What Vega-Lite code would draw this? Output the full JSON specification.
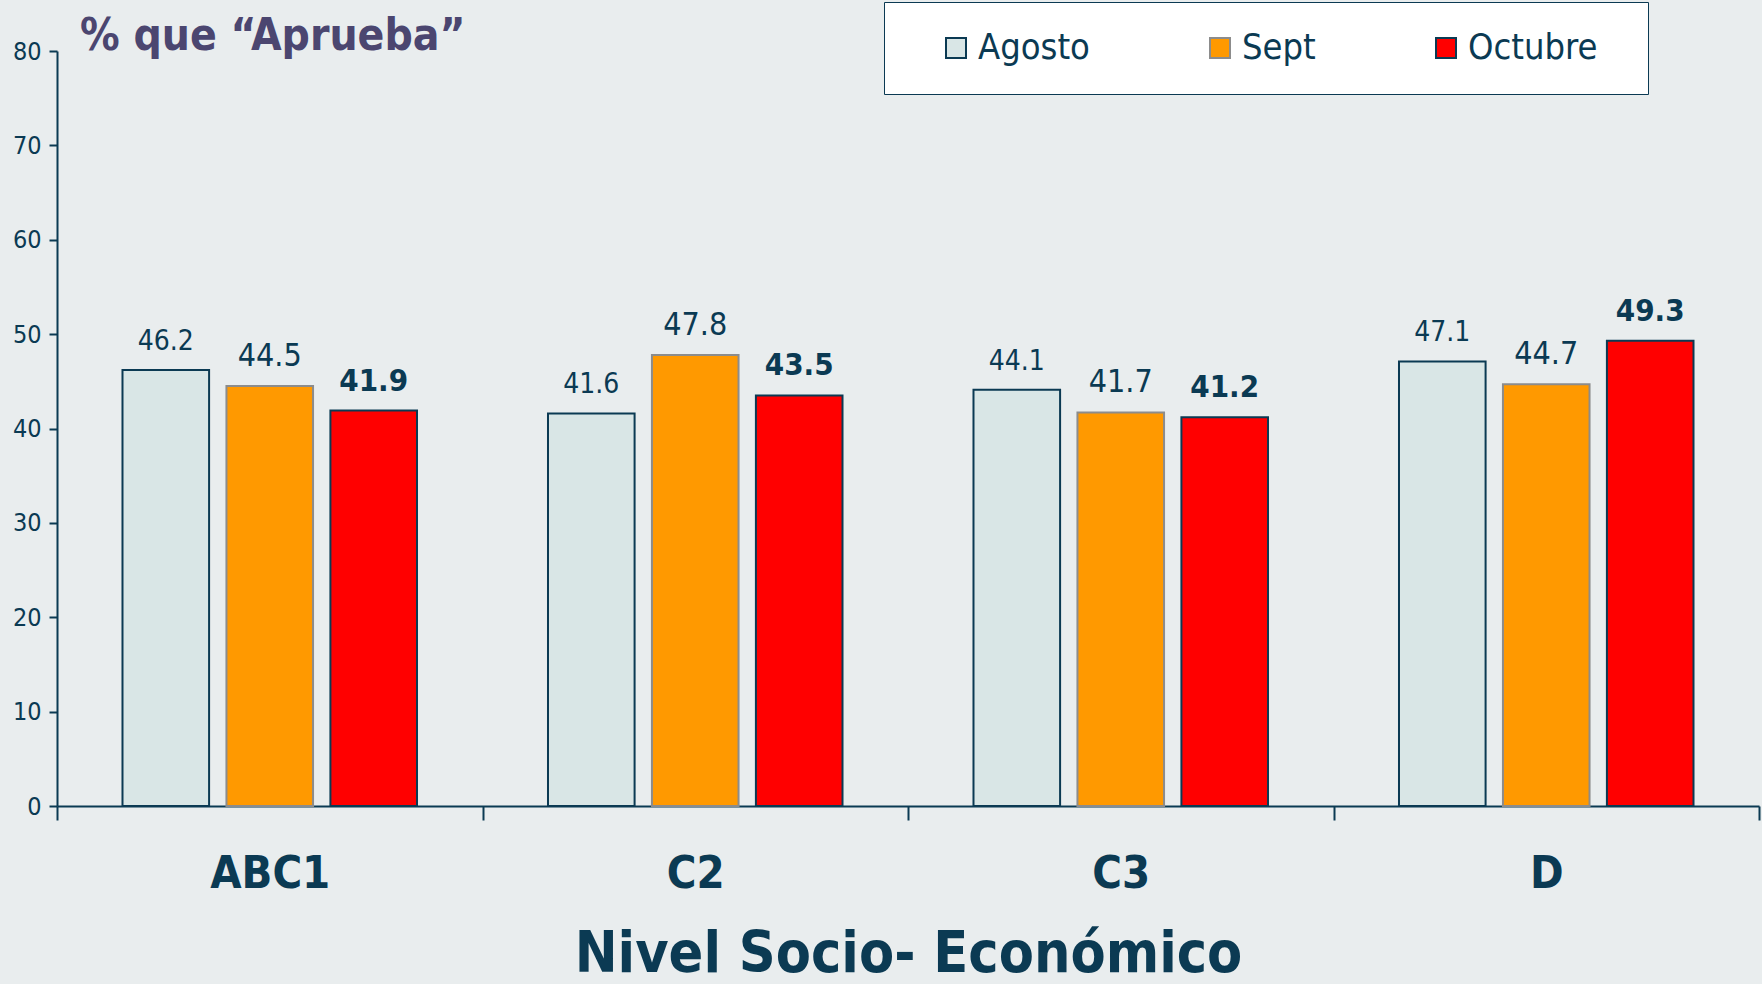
{
  "$schema": "https://vega.github.io/schema/vega-lite/v6.json",
  "width": 1702,
  "height": 755,
  "autosize": {"type": "none"},
  "padding": {"left": 57, "top": 51, "right": 3, "bottom": 178},
  "background": "#E9EDEE",
  "config": {"view": {"stroke": null}, "font": "DejaVu Sans Condensed"},
  "title": {"text": "% que “Aprueba”", "anchor": "start", "frame": "group", "dx": 23, "dy": 95, "fontSize": 44, "font": "DejaVu Sans Condensed", "fontWeight": "bold", "color": "#4B4670", "baseline": "alphabetic", "offset": 3},
  "data": {"values": [
    {"nse": "ABC1", "mes": "Agosto", "valor": 46.2},
    {"nse": "ABC1", "mes": "Sept", "valor": 44.5},
    {"nse": "ABC1", "mes": "Octubre", "valor": 41.9},
    {"nse": "C2", "mes": "Agosto", "valor": 41.6},
    {"nse": "C2", "mes": "Sept", "valor": 47.8},
    {"nse": "C2", "mes": "Octubre", "valor": 43.5},
    {"nse": "C3", "mes": "Agosto", "valor": 44.1},
    {"nse": "C3", "mes": "Sept", "valor": 41.7},
    {"nse": "C3", "mes": "Octubre", "valor": 41.2},
    {"nse": "D", "mes": "Agosto", "valor": 47.1},
    {"nse": "D", "mes": "Sept", "valor": 44.7},
    {"nse": "D", "mes": "Octubre", "valor": 49.3}
  ]},
  "encoding": {
    "x": {"field": "nse", "type": "nominal", "sort": ["ABC1", "C2", "C3", "D"],
      "scale": {"paddingInner": 0, "paddingOuter": 0},
      "axis": {"title": "Nivel Socio- Económico", "labelAngle": 0, "tickBand": "extent", "tickSize": 14, "tickWidth": 2, "tickColor": "#0B3A53", "domainColor": "#0B3A53", "domainWidth": 2, "labelFont": "DejaVu Sans Condensed", "labelFontWeight": "bold", "labelFontSize": 45, "labelColor": "#0B3A53", "labelPadding": 31, "titleFont": "DejaVu Sans Condensed", "titleFontSize": 57, "titleFontWeight": "bold", "titleColor": "#0B3A53", "titlePadding": 30}},
    "xOffset": {"field": "mes", "type": "nominal", "sort": ["Agosto", "Sept", "Octubre"], "scale": {"domain": ["Agosto", "Sept", "Octubre"], "paddingInner": 0.167, "paddingOuter": 0.63}},
    "y": {"field": "valor", "type": "quantitative", "scale": {"domain": [0, 80]},
      "axis": {"title": null, "values": [0, 10, 20, 30, 40, 50, 60, 70, 80], "grid": false, "tickSize": 8, "tickWidth": 2, "tickColor": "#0B3A53", "domainColor": "#0B3A53", "domainWidth": 2, "labelFontSize": 25, "labelColor": "#0B3A53", "labelPadding": 8}}
  },
  "layer": [
    {"mark": {"type": "bar", "strokeWidth": 2},
     "encoding": {
       "color": {"field": "mes", "type": "nominal", "scale": {"domain": ["Agosto", "Sept", "Octubre"], "range": ["#D9E6E6", "#FF9900", "#FF0000"]},
         "legend": {"orient": "none", "legendX": 827, "legendY": -49, "direction": "horizontal", "title": " ", "titleOrient": "right", "titleFontSize": 1, "titlePadding": 22, "fillColor": "white", "strokeColor": "#0B3A53", "padding": 28, "symbolOffset": 26, "symbolType": "square", "symbolSize": 400, "symbolStrokeWidth": 2, "labelFontSize": 36, "labelColor": "#0B3A53", "labelOffset": 4, "columnPadding": 86}},
       "stroke": {"field": "mes", "type": "nominal", "scale": {"domain": ["Agosto", "Sept", "Octubre"], "range": ["#0B3A53", "#8C8C8C", "#0B3A53"]}}
     }},
    {"transform": [{"filter": "datum.mes == 'Agosto'"}],
     "mark": {"type": "text", "fontSize": 28, "dy": -20, "baseline": "alphabetic", "color": "#0B3A53"},
     "encoding": {"text": {"field": "valor", "type": "quantitative", "format": ".1f"}}},
    {"transform": [{"filter": "datum.mes == 'Sept'"}],
     "mark": {"type": "text", "fontSize": 32, "dy": -20, "baseline": "alphabetic", "color": "#0B3A53"},
     "encoding": {"text": {"field": "valor", "type": "quantitative", "format": ".1f"}}},
    {"transform": [{"filter": "datum.mes == 'Octubre'"}],
     "mark": {"type": "text", "fontSize": 31, "fontWeight": "bold", "dy": -20, "baseline": "alphabetic", "color": "#0B3A53"},
     "encoding": {"text": {"field": "valor", "type": "quantitative", "format": ".1f"}}}
  ]
}
